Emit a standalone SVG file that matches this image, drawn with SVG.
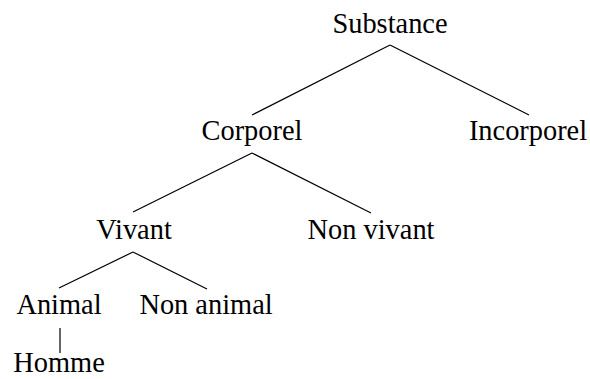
<svg xmlns="http://www.w3.org/2000/svg" width="590" height="379" viewBox="0 0 590 379">
<style>
text{font-family:"Liberation Serif","Times New Roman",serif;font-size:28.4px;fill:#000;text-anchor:middle}
line{stroke:#000;stroke-width:1.2;fill:none}
</style>
<rect width="590" height="379" fill="#fff"/>
<g id="connectors">
<line x1="390" y1="45" x2="252" y2="115"/>
<line x1="390" y1="45" x2="529" y2="115"/>
<line x1="252" y1="153" x2="133" y2="212"/>
<line x1="252" y1="153" x2="371" y2="213"/>
<line x1="133" y1="252" x2="59" y2="288"/>
<line x1="133" y1="252" x2="207" y2="289"/>
<line x1="60" y1="328" x2="60" y2="353"/>
</g>
<g id="substance"><text x="390" y="33">Substance</text></g>
<g id="corporel"><text x="252" y="140">Corporel</text></g>
<g id="incorporel"><text x="528" y="140">Incorporel</text></g>
<g id="vivant"><text x="134" y="239">Vivant</text></g>
<g id="nonvivant"><text x="371" y="239">Non vivant</text></g>
<g id="animal"><text x="59" y="314">Animal</text></g>
<g id="nonanimal"><text x="206" y="314">Non animal</text></g>
<g id="homme"><text x="59" y="372">Homme</text></g>
</svg>
